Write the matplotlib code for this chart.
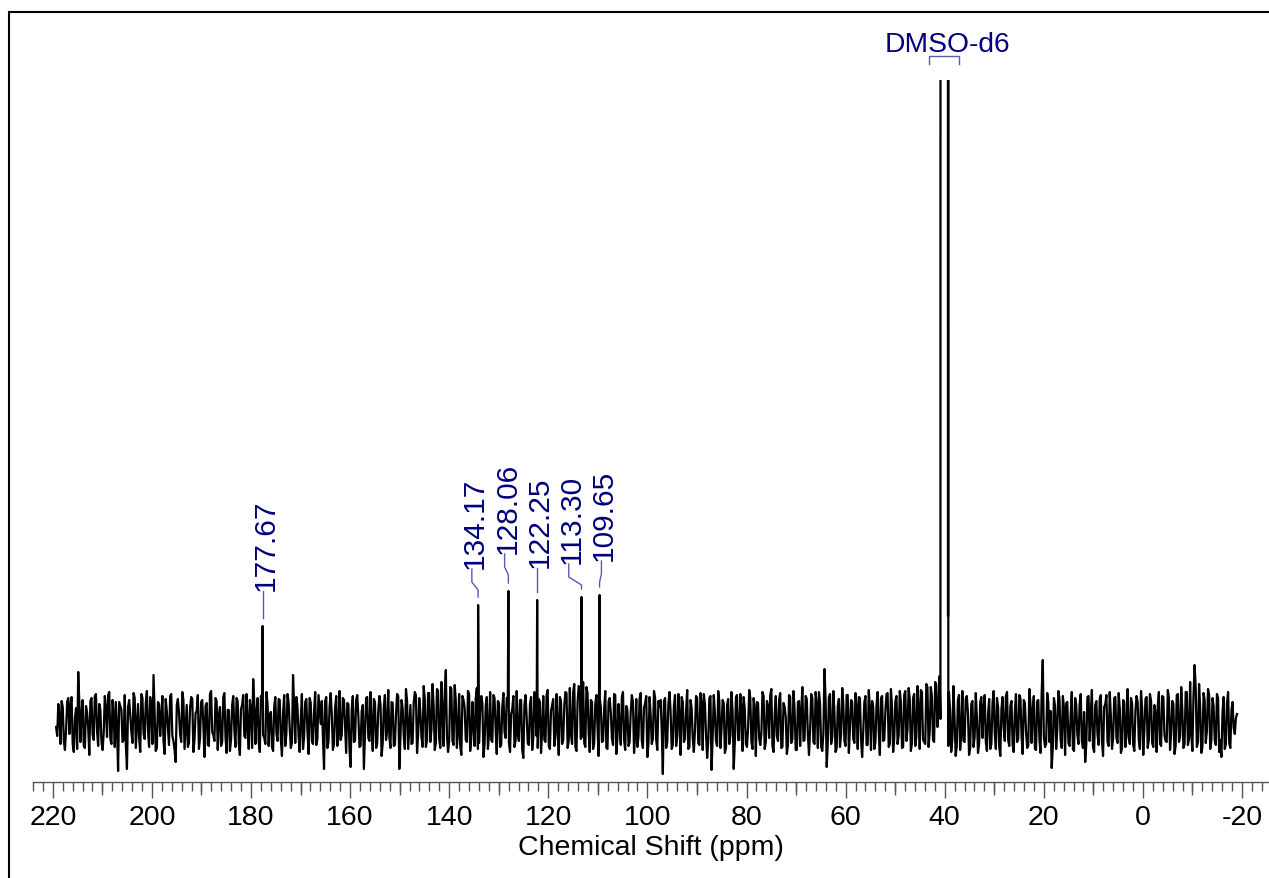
import numpy as np
import matplotlib
matplotlib.use('Agg')
import matplotlib.pyplot as plt
from matplotlib.ticker import MultipleLocator
from matplotlib.patches import Rectangle
from matplotlib.transforms import offset_copy

plt.rcParams['font.family'] = ['Liberation Sans', 'DejaVu Sans']
plt.rcParams['axes.unicode_minus'] = False

# ---------------- data ----------------
peak_ppm = [177.67, 134.17, 128.06, 122.25, 113.30, 109.65]
peak_height = [96, 117, 131, 122, 125, 127]
peak_labels = ['177.67', '134.17', '128.06', '122.25', '113.30', '109.65']
label_ppm = [177.67, 135.43, 128.82, 122.25, 115.87, 109.28]
label_base = [135, 157, 172, 158, 162, 165]

dmso_ppm = [40.86, 40.82, 40.3, 39.8, 39.36, 39.33, 39.30, 39.27]
dmso_int = [3, 3000, 3000, 3000, 3000, 106, 3000, -24]
solvent_label = 'DMSO-d6'

# noise, left of the solvent peak (samples on the grid, then samples between them)
noise_left_range = (219.34, 41.02)
noise_left = [
    -5, 18, -22, 15, -28, 20, -12, 25, -30, 14, 50, -20, 22, -26, 10, -33, 24, -18, 28, -24,
    12, -28, 26, -15, 30, -22, 8, 20, -49, 16, -20, 27, -47, 22, -10, 29, -26, 18, -30, 24,
    -17, 31, -25, 14, 47, -29, 20, -14, 26, -32, 11, -23, 28, -19, -40, 23, -12, 30, -27, 17,
    -21, 25, -30, 9, 27, -16, 22, -35, 19, -24, 31, -13, 24, -28, 15, -20, 29, -31, 12, -18,
    26, -25, 21, -33, 17, -14, 28, -27, 13, 43, -22, 24, -30, 18, -16, 30, -24, 10, -29, 25,
    -19, 22, -34, 27, -12, 20, -26, 47, -21, 16, -30, 28, -15, 23, -32, 19, -22, 30, -17, 13,
    21, -47, 25, -20, 29, -28, 14, -24, 31, -13, 22, -31, 18, -45, 26, -19, 27, -25, 11, -47,
    24, -16, 30, -29, 20, -22, 26, -34, 15, -18, 32, -26, 19, -23, 28, -47, 22, -14, 33, -27,
    17, -21, 30, -31, 24, -15, 36, -25, 29, -20, 38, -28, 33, -17, 40, -24, 52, -30, 35, -19,
    37, -26, 28, -33, 22, -18, 31, -29, 20, -24, 34, -21, 26, -35, 16, -27, 30, -20, 24, -32,
    19, -23, 29, -16, 25, -30, 13, -25, 31, -19, 22, -36, 27, -21, 18, -28, 30, -14, 23, -31,
    26, -20, 32, -27, 17, -24, 28, -33, 21, -18, 30, -26, 34, -22, 38, -29, 36, -17, 40, -25,
    29, -30, 20, -21, 27, -34, 15, -19, 31, -27, 24, -16, 28, -32, 18, -23, 30, -28, 12, -20,
    27, -31, 23, -15, 29, -26, 19, -35, 25, -22, 31, -18, 21, 22, -52, 24, -20, 30, -27, 16,
    -24, 28, -33, 20, -17, 32, -25, 14, -30, 26, -21, 29, -28, 18, -36, 24, -48, 27, -19, 31,
    -26, 22, -31, 17, -22, 30, -47, 25, -18, 28, -29, 13, -25, 32, -20, 24, -34, 19, -23, 30,
    -27, 21, -16, 33, -30, 26, -19, 29, -25, 15, -32, 27, -21, 31, -28, 20, -24, 35, -18, 23,
    -33, 28, -20, 30, -26, 18, -29, 53, -45, 25, -22, 31, -30, 16, -25, 34, -19, 27, -31, 22,
    -17, 29, -27, 24, -35, 20, -23, 32, -28, 15, -20, 30, -33, 26, -18, 28, -25, 33, -30, 21,
    -22, 31, -26, 27, -19, 34, -29, 24, -24, 36, -27, 30, -20, 38, -25, 35, -18, 40, -5, 46,
]
noise_left_mid = [
    -14, 6, 21, -19, -8, 24, 17, -22, 3, -27, 19, 9, -24, 16, -6, 21, -13, 26, -9, 18,
    -20, -11, 13, 27, -17, 22, -25, -6, 20, 12, -18, -23, 15, 7, -21, 24, -3, -16, 28, -12,
    19, -9, 25, -22, 10, -26, 18, 4, -19, 23, -7, 26, -14, -28, 17, 9, -20, 22, -5, -25,
    14, 23, -18, 11, -27, 20, -3, 16, -23, 28, -10, -19, 21, 6, -24, 25, -15, 12, -29, 17,
    -8, 24, -21, 13, 27, -16, -4, 22, -26, 19, 10, -20, 26, -13, -22, 18, 7, -25, 15, -11,
    23, -18, 9, -24, 28, -6, -21, 17, 25, -14, 3, -27, 20, -9, 24, -19, 11, -23, 27, -2,
    -16, 21, -26, 15, 8, -22, 26, -11, -18, 24, -5, 19, -28, 13, -20, 22, 6, -24, 17, -13,
    25, -19, -7, 23, -26, 12, 18, -21, 27, -9, -15, 20, -24, 8, 26, -17, 14, -27, 21, -4,
    -22, 19, 27, -13, 10, -25, 23, -18, 29, -8, 16, -21, 31, -26, 12, 28, -14, -19, 33, -23,
    22, -9, -24, 26, 14, -20, 28, -16, -5, 23, -27, 11, 19, -22, 25, -12, -18, 27, -7, 21,
    -25, 15, -10, 24, -21, 8, 26, -19, -13, 22, -28, 17, 5, -23, 25, -16, 12, -26, 20, -9,
    -18, 27, -24, 11, 23, -14, -7, 25, -22, 16, 29, -19, -12, 30, -25, 20, 33, -15, -21, 35,
    -11, 22, -27, 18, -6, 24, -20, 13, -26, 21, 9, -23, 27, -15, -4, 25, -18, 16, -24, 10,
    20, -12, -25, 23, -19, 14, 26, -22, 7, -17, 24, -28, 15, -8, 21, -26, 18, 11, -23, 27,
    -14, 6, 25, -20, 12, -27, 22, -16, -9, 24, -23, 18, 28, -12, -20, 26, -15, 9, -24, 21,
    -7, 19, -26, 23, -13, 10, -21, 27, -18, 15, 25, -22, -6, 24, -27, 13, 20, -16, -11, 26,
    -20, 16, 27, -24, 8, -14, 22, -26, 19, 5, -23, 25, -17, 12, -28, 21, 9, -19, 26, -13,
    -8, 24, -22, 17, 30, -25, -11, 22, -20, 28, -15, 9, -26, 23, -12, 18, -24, 27, -6, 20,
    -21, 14, 25, -18, -9, 26, -23, 13, 21, -27, 17, -10, 24, -19, 11, 29, -22, 15, -16, 26,
    -13, 20, -25, 31, -7, 23, -21, 28, -14, 12, 32, -18, -22, 35, -10, 26, -20, 37, 12,
]
# noise, right of the solvent peak
noise_right_range = (39.14, -19.0)
noise_right = [
    30, -30, 36, -34, 22, -28, 31, -20, 26, -33, 18, -25, 29, -31, 20, -16, 27, -29, 23, -22,
    31, -27, 15, -34, 25, -19, 30, -24, 21, -30, 28, -17, 24, -32, 19, -26, 33, -21, 26, -28,
    22, -31, 62, -25, 29, -20, -46, 24, -27, 31, -18, 26, -33, 20, -24, 30, -29, 17, -22, 28,
    -26, -40, 25, -19, 32, -30, 21, -23, 27, -34, 18, -20, 30, -27, 24, -16, 29, -31, 22, -25,
    33, -22, 19, -29, 26, -18, 31, -33, 23, -26, 28, -21, 17, -30, 30, -24, 25, -19, 32, -28,
    21, -32, 27, -20, 35, -26, 30, -23, 40, -29, 57, -25, 38, -31, 29, -21, 33, -27, 24, -18,
    28, -30, -35, 25, -22, 30, -26, 20, -12, 8,
]
noise_right_mid = [
    12, -18, 4, -24, 27, -12, -19, 23, 9, -26, 21, -15, 5, -22, 25, 14, -20, 8, -27, 19,
    -11, 24, -25, 13, -6, 26, -18, 16, -23, 10, -20, 27, -14, 22, -9, -24, 18, 12, -27, 21,
    -17, 28, -15, -22, 20, 11, -25, 16, -8, 23, -26, 14, 19, -21, 7, -27, 24, -13, 18, -19,
    10, -22, 26, 8, -25, 17, -12, 23, -19, 15, 27, -24, 6, -17, 25, -21, 13, -26, 20, -9,
    -16, 24, -23, 11, 20, -27, 14, -8, 25, -18, 21, -25, 9, 16, -22, 26, -13, -20, 24, -12,
    18, -24, 28, -15, 12, -22, 30, -17, -11, 26, 34, -20, 14, -25, 22, -9, 27, -19, 16, -23,
    24, -18, 10, -27, 19, -21, 12, -6, 4,
]

major_ticks_step = 20
medium_ticks = [210, 190, 170, 150, 130, 110, 90, 70, 50, 30, 10, -10]
xlabel_text = 'Chemical Shift (ppm)'


def segment(rng, grid_vals, mid_vals):
    xa = np.linspace(rng[0], rng[1], len(grid_vals))
    xb = (xa[:-1] + xa[1:]) / 2
    n = min(len(xb), len(mid_vals))
    return (np.concatenate([xa, xb[:n]]),
            np.concatenate([np.asarray(grid_vals, float), np.asarray(mid_vals[:n], float)]))


# ---------------- figure ----------------
W, H = 1269, 879
fig = plt.figure(figsize=(W / 100, H / 100), dpi=100)
ax_left_px, ax_right_px, ax_bottom_px, ax_top_px = 33, 1269, 783, 81
ax = fig.add_axes([ax_left_px / W, 1 - ax_bottom_px / H,
                   (ax_right_px - ax_left_px) / W, (ax_bottom_px - ax_top_px) / H])

lx_, ly_ = segment(noise_left_range, noise_left, noise_left_mid)
rx_, ry_ = segment(noise_right_range, noise_right, noise_right_mid)
xs = np.concatenate([lx_, rx_, peak_ppm, dmso_ppm])
ys = np.concatenate([ly_, ry_, peak_height, dmso_int]).astype(float)
order = np.argsort(-xs)
ax.plot(xs[order], ys[order], color='black', lw=1.6)

xlim = (224.0, -25.45)
ax.set_xlim(xlim)
ax.set_ylim(-60, 642)

for s in ['left', 'right', 'top']:
    ax.spines[s].set_visible(False)
ax.spines['bottom'].set_color('#555555')
ax.spines['bottom'].set_linewidth(1.0)
ax.yaxis.set_visible(False)

ax.xaxis.set_major_locator(MultipleLocator(major_ticks_step))
ax.xaxis.set_minor_locator(MultipleLocator(2))
ax.tick_params(axis='x', which='major', direction='out', length=11.5, width=1.0,
               color='#555555', labelsize=20.5, pad=4.5, labelcolor='black')
ax.tick_params(axis='x', which='minor', direction='out', length=6.8, width=1.0,
               color='#555555')
ax.set_xlabel(xlabel_text, fontsize=20.5, labelpad=3)

ax2 = ax.twiny()
ax2.set_xlim(xlim)
ax2.set_ylim(ax.get_ylim())
ax2.xaxis.set_ticks_position('bottom')
ax2.set_xticks(medium_ticks)
ax2.tick_params(axis='x', which='major', direction='out', length=9.4, width=1.0,
                color='#555555', labelbottom=False, labeltop=False, top=False)
for s in ax2.spines.values():
    s.set_visible(False)
ax2.yaxis.set_visible(False)

# peak labels with leader lines
lead_col = '#5a5ab4'
text_col = '#000080'
lab_fs = 21.5
cap_px = 0.716 * lab_fs * 100 / 72
text_trans = offset_copy(ax.transData, fig=fig, x=cap_px / 2, y=0, units='dots')
for p, h, lab, lx, lb in zip(peak_ppm, peak_height, peak_labels, label_ppm, label_base):
    start = lb - 4
    e1 = start - 13
    e2 = e1 - 8
    end = h + 8
    ax.plot([lx, lx, p, p], [start, e1, e2, end], color=lead_col, lw=1.0,
            clip_on=False)
    ax.text(lx, lb - 3, lab, rotation=90, rotation_mode='anchor', ha='left',
            va='baseline', color=text_col, fontsize=lab_fs, clip_on=False,
            transform=text_trans)

# solvent bracket + label
ax.plot([43.19, 43.19, 37.12, 37.12], [658, 666, 666, 658], color=lead_col, lw=1.0,
        clip_on=False)
ax.text(39.54, 671, solvent_label, ha='center', va='baseline', color=text_col,
        fontsize=20.3, clip_on=False)

# outer frame
fig.add_artist(Rectangle((9 / W, -0.1), 1.2, 1.1 - 13 / H, transform=fig.transFigure,
                         fill=False, edgecolor='black', lw=1.5))

fig.savefig('out.png', dpi=100)
